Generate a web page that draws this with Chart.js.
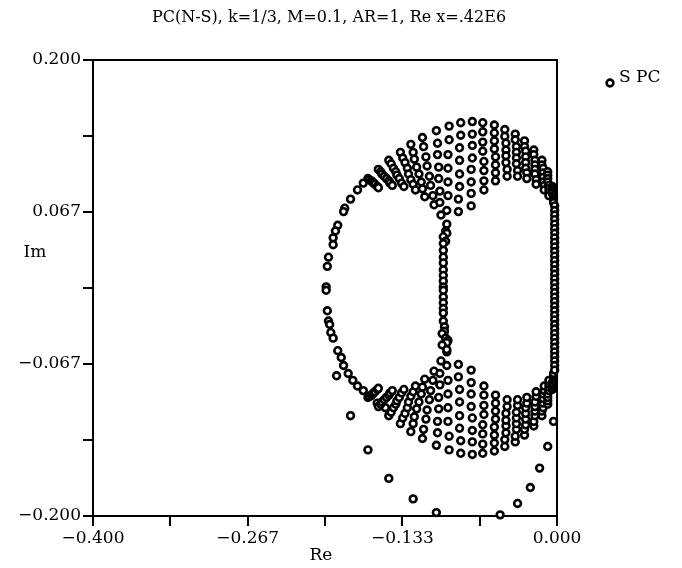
<!DOCTYPE html>
<html lang="en">
<head>
    <meta charset="UTF-8">
    <title>PC(N-S) spectrum</title>
    <style>
        body {
            margin: 0;
            padding: 0;
            background: #fff;
        }
        .chart-box {
            width: 682px;
            height: 568px;
        }
    </style>
</head>
<body>
    <div class="chart-box">
        <canvas id="spectrum"></canvas>
    </div>

    <script src="https://cdn.jsdelivr.net/npm/chart.js"></script>
    <script>
        // axis ticks
        const xTickValues = [-0.4, -0.3333, -0.2667, -0.2, -0.1333, -0.0667, 0];
        const xTickLabels = ['\u22120.400', '', '\u22120.267', '', '\u22120.133', '', '0.000'];
        const yTickValues = [-0.2, -0.1333, -0.0667, 0, 0.0667, 0.1333, 0.2];
        const yTickLabels = ['\u22120.200', '', '\u22120.067', '', '0.067', '', '0.200'];

        // eigenvalues [Re, Im]
        const upperLeft = [
            [-0.163,0.096],[-0.162,0.095],[-0.160,0.094],[-0.159,0.093],[-0.158,0.092],[-0.157,0.091],[-0.155,0.089],[-0.154,0.088],
            [-0.154,0.104],[-0.152,0.102],[-0.151,0.100],[-0.149,0.098],[-0.147,0.096],[-0.145,0.094],[-0.144,0.092],[-0.142,0.090],
            [-0.145,0.112],[-0.143,0.109],[-0.141,0.105],[-0.139,0.102],[-0.138,0.099],[-0.136,0.096],[-0.134,0.092],[-0.132,0.089],
            [-0.135,0.119],[-0.133,0.114],[-0.131,0.110],[-0.129,0.105],[-0.128,0.100],[-0.126,0.095],[-0.124,0.091],[-0.122,0.086],
            [-0.126,0.126],[-0.124,0.119],[-0.123,0.113],[-0.121,0.106],[-0.119,0.100],[-0.117,0.093],[-0.116,0.087],[-0.114,0.080],
            [-0.116,0.132],[-0.115,0.124],[-0.113,0.115],[-0.112,0.107],[-0.110,0.098],[-0.109,0.090],[-0.107,0.081],[-0.106,0.073],
            [-0.104,0.138],[-0.103,0.127],[-0.103,0.117],[-0.102,0.106],[-0.102,0.096],[-0.101,0.085],[-0.101,0.075],[-0.100,0.064]
        ];
        const upperTop = [
            [-0.093,0.142],[-0.093,0.130],[-0.094,0.117],[-0.094,0.105],[-0.094,0.093],[-0.094,0.081],[-0.095,0.068],[-0.095,0.056],
            [-0.083,0.145],[-0.083,0.134],[-0.084,0.123],[-0.084,0.112],[-0.084,0.100],[-0.084,0.089],[-0.085,0.078],[-0.085,0.067],
            [-0.073,0.146],[-0.073,0.135],[-0.073,0.125],[-0.073,0.114],[-0.074,0.104],[-0.074,0.093],[-0.074,0.083],[-0.074,0.072],
            [-0.064,0.145],[-0.064,0.137],[-0.064,0.128],[-0.064,0.120],[-0.063,0.111],[-0.063,0.103],[-0.063,0.094],[-0.063,0.086],
            [-0.054,0.143],[-0.054,0.136],[-0.054,0.129],[-0.054,0.122],[-0.053,0.115],[-0.053,0.108],[-0.053,0.101],[-0.053,0.094],
            [-0.045,0.139],[-0.045,0.133],[-0.044,0.127],[-0.044,0.121],[-0.044,0.116],[-0.044,0.110],[-0.043,0.104],[-0.043,0.098]
        ];
        const upperRight = [
            [-0.036,0.135],[-0.036,0.130],[-0.035,0.124],[-0.035,0.119],[-0.035,0.114],[-0.035,0.109],[-0.034,0.103],[-0.034,0.098],
            [-0.028,0.129],[-0.028,0.124],[-0.027,0.120],[-0.027,0.115],[-0.027,0.110],[-0.027,0.105],[-0.026,0.101],[-0.026,0.096],
            [-0.020,0.121],[-0.020,0.117],[-0.019,0.112],[-0.019,0.108],[-0.019,0.104],[-0.019,0.100],[-0.018,0.095],[-0.018,0.091],
            [-0.013,0.112],[-0.013,0.108],[-0.012,0.105],[-0.012,0.101],[-0.012,0.097],[-0.012,0.093],[-0.011,0.090],[-0.011,0.086],
            [-0.008,0.102],[-0.008,0.099],[-0.008,0.096],[-0.008,0.093],[-0.007,0.090],[-0.007,0.087],[-0.007,0.084],[-0.007,0.081],
            [-0.004,0.089],[-0.004,0.087],[-0.004,0.085],[-0.004,0.083],[-0.003,0.081],[-0.003,0.079],[-0.003,0.077],[-0.003,0.075]
        ];
        const lowerLeft = [
            [-0.163,-0.096],[-0.162,-0.095],[-0.160,-0.094],[-0.159,-0.093],[-0.158,-0.092],[-0.157,-0.091],[-0.155,-0.089],[-0.154,-0.088],
            [-0.154,-0.104],[-0.152,-0.102],[-0.151,-0.100],[-0.149,-0.098],[-0.147,-0.096],[-0.145,-0.094],[-0.144,-0.092],[-0.142,-0.090],
            [-0.145,-0.112],[-0.143,-0.109],[-0.141,-0.105],[-0.139,-0.102],[-0.138,-0.099],[-0.136,-0.096],[-0.134,-0.092],[-0.132,-0.089],
            [-0.135,-0.119],[-0.133,-0.114],[-0.131,-0.110],[-0.129,-0.105],[-0.128,-0.100],[-0.126,-0.095],[-0.124,-0.091],[-0.122,-0.086],
            [-0.126,-0.126],[-0.124,-0.119],[-0.123,-0.113],[-0.121,-0.106],[-0.119,-0.100],[-0.117,-0.093],[-0.116,-0.087],[-0.114,-0.080],
            [-0.116,-0.132],[-0.115,-0.124],[-0.113,-0.115],[-0.112,-0.107],[-0.110,-0.098],[-0.109,-0.090],[-0.107,-0.081],[-0.106,-0.073],
            [-0.104,-0.138],[-0.103,-0.127],[-0.103,-0.117],[-0.102,-0.106],[-0.102,-0.096],[-0.101,-0.085],[-0.101,-0.075],[-0.100,-0.064]
        ];
        const lowerBottom = [
            [-0.093,-0.142],[-0.093,-0.130],[-0.094,-0.117],[-0.094,-0.105],[-0.094,-0.093],[-0.094,-0.081],[-0.095,-0.068],[-0.095,-0.056],
            [-0.083,-0.145],[-0.083,-0.134],[-0.084,-0.123],[-0.084,-0.112],[-0.084,-0.100],[-0.084,-0.089],[-0.085,-0.078],[-0.085,-0.067],
            [-0.073,-0.146],[-0.073,-0.135],[-0.073,-0.125],[-0.073,-0.114],[-0.074,-0.104],[-0.074,-0.093],[-0.074,-0.083],[-0.074,-0.072],
            [-0.064,-0.145],[-0.064,-0.137],[-0.064,-0.128],[-0.064,-0.120],[-0.063,-0.111],[-0.063,-0.103],[-0.063,-0.094],[-0.063,-0.086],
            [-0.054,-0.143],[-0.054,-0.136],[-0.054,-0.129],[-0.054,-0.122],[-0.053,-0.115],[-0.053,-0.108],[-0.053,-0.101],[-0.053,-0.094],
            [-0.045,-0.139],[-0.045,-0.133],[-0.044,-0.127],[-0.044,-0.121],[-0.044,-0.116],[-0.044,-0.110],[-0.043,-0.104],[-0.043,-0.098]
        ];
        const lowerRight = [
            [-0.036,-0.135],[-0.036,-0.130],[-0.035,-0.124],[-0.035,-0.119],[-0.035,-0.114],[-0.035,-0.109],[-0.034,-0.103],[-0.034,-0.098],
            [-0.028,-0.129],[-0.028,-0.124],[-0.027,-0.120],[-0.027,-0.115],[-0.027,-0.110],[-0.027,-0.105],[-0.026,-0.101],[-0.026,-0.096],
            [-0.020,-0.121],[-0.020,-0.117],[-0.019,-0.112],[-0.019,-0.108],[-0.019,-0.104],[-0.019,-0.100],[-0.018,-0.095],[-0.018,-0.091],
            [-0.013,-0.112],[-0.013,-0.108],[-0.012,-0.105],[-0.012,-0.101],[-0.012,-0.097],[-0.012,-0.093],[-0.011,-0.090],[-0.011,-0.086],
            [-0.008,-0.102],[-0.008,-0.099],[-0.008,-0.096],[-0.008,-0.093],[-0.007,-0.090],[-0.007,-0.087],[-0.007,-0.084],[-0.007,-0.081],
            [-0.004,-0.089],[-0.004,-0.087],[-0.004,-0.085],[-0.004,-0.083],[-0.003,-0.081],[-0.003,-0.079],[-0.003,-0.077],[-0.003,-0.075]
        ];
        const leftArc = [
            [-0.167,0.092],[-0.172,0.086],[-0.178,0.078],[-0.183,0.070],[-0.184,0.067],[-0.189,0.055],[-0.191,0.050],
            [-0.193,0.044],[-0.193,0.038],[-0.197,0.027],[-0.198,0.019],[-0.199,0.001],[-0.199,-0.002],[-0.198,-0.020],
            [-0.197,-0.029],[-0.196,-0.032],[-0.195,-0.039],[-0.193,-0.044],[-0.189,-0.055],[-0.186,-0.061],[-0.184,-0.068],
            [-0.180,-0.075],[-0.176,-0.081],[-0.172,-0.086],[-0.167,-0.090],[-0.161,-0.095],[-0.155,-0.101],[-0.148,-0.105]
        ];
        const middleColumn = [
            [-0.096,0.050],[-0.095,0.048],[-0.098,0.045],[-0.096,0.041],[-0.098,0.039],[-0.098,0.033],[-0.098,0.027],
            [-0.098,0.022],[-0.098,0.016],[-0.098,0.011],[-0.098,0.006],[-0.098,0.001],[-0.098,-0.002],[-0.098,-0.008],
            [-0.098,-0.013],[-0.098,-0.018],[-0.098,-0.022],[-0.098,-0.029],[-0.097,-0.034],[-0.097,-0.038],[-0.099,-0.040],
            [-0.096,-0.044],[-0.094,-0.046],[-0.095,-0.048],[-0.099,-0.050],[-0.095,-0.054]
        ];
        const rightColumn = [
            [-0.002,0.072],[-0.002,0.068],[-0.002,0.064],[-0.002,0.060],[-0.002,0.056],[-0.002,0.052],[-0.002,0.048],
            [-0.002,0.044],[-0.002,0.040],[-0.002,0.036],[-0.002,0.032],[-0.002,0.028],[-0.002,0.024],[-0.002,0.020],
            [-0.002,0.016],[-0.002,0.012],[-0.002,0.008],[-0.002,0.004],[-0.002,0.000],[-0.002,-0.004],[-0.002,-0.008],
            [-0.002,-0.012],[-0.002,-0.016],[-0.002,-0.020],[-0.002,-0.024],[-0.002,-0.028],[-0.002,-0.032],[-0.002,-0.036],
            [-0.002,-0.040],[-0.002,-0.044],[-0.002,-0.048],[-0.002,-0.052],[-0.002,-0.056],[-0.002,-0.060],[-0.002,-0.064],
            [-0.002,-0.068],[-0.002,-0.072]
        ];
        const scattered = [
            [-0.190,-0.077],[-0.178,-0.112],[-0.163,-0.142],[-0.145,-0.167],[-0.124,-0.185],[-0.104,-0.197],
            [-0.049,-0.199],[-0.034,-0.189],[-0.023,-0.175],[-0.015,-0.158],[-0.008,-0.139],[-0.003,-0.117],
            [0.007,0.180]
        ];

        const serif = 'DejaVu Serif';

        const allPoints = [].concat(leftArc, upperLeft, upperTop, upperRight, lowerLeft, lowerBottom, lowerRight,
            middleColumn, rightColumn, scattered).map(p => ({ x: p[0], y: p[1] }));

        // frame, title, axis names and legend drawn by hand like the original plot
        const decorations = {
            id: 'decorations',
            afterDraw(chart) {
                const ctx = chart.ctx;
                const a = chart.chartArea;
                ctx.save();
                ctx.strokeStyle = '#000';
                ctx.lineWidth = 2;
                ctx.beginPath();
                ctx.moveTo(a.left, a.top);
                ctx.lineTo(a.right, a.top);
                ctx.lineTo(a.right, a.bottom);
                ctx.stroke();

                ctx.fillStyle = '#000';
                ctx.textBaseline = 'middle';
                ctx.font = '16px "' + serif + '"';
                ctx.textAlign = 'center';
                ctx.fillText('PC(N-S), k=1/3, M=0.1, AR=1, Re x=.42E6', 329, 18);

                ctx.font = '17px "' + serif + '"';
                ctx.fillText('Re', 321, 556);
                ctx.fillText('Im', 35, 253);

                // legend
                ctx.lineWidth = 2.6;
                ctx.beginPath();
                ctx.arc(610, 83, 3.4, 0, Math.PI * 2);
                ctx.fillStyle = '#fff';
                ctx.fill();
                ctx.stroke();
                ctx.fillStyle = '#000';
                ctx.textAlign = 'left';
                ctx.fillText('S PC', 619, 78);
                ctx.restore();
            }
        };

        const axisCommon = {
            type: 'linear',
            grid: { drawOnChartArea: false, drawTicks: true, tickLength: 10, color: '#000', lineWidth: 2 },
            border: { display: true, color: '#000', width: 2 }
        };

        new Chart(document.getElementById('spectrum'), {
            type: 'scatter',
            data: {
                datasets: [{
                    label: 'S PC',
                    data: allPoints,
                    clip: false,
                    pointRadius: 3.4,
                    pointBorderWidth: 2.6,
                    borderColor: '#000',
                    backgroundColor: '#fff'
                }]
            },
            options: {
                animation: false,
                responsive: true,
                maintainAspectRatio: false,
                layout: { padding: { top: 60, right: 125, bottom: 0, left: 0 } },
                plugins: {
                    legend: { display: false },
                    title: { display: false },
                    tooltip: { enabled: false }
                },
                scales: {
                    x: Object.assign({}, axisCommon, {
                        min: -0.4,
                        max: 0,
                        afterBuildTicks: axis => { axis.ticks = xTickValues.map(v => ({ value: v })); },
                        afterFit: axis => { axis.height = 52; },
                        ticks: {
                            autoSkip: false,
                            maxRotation: 0,
                            padding: 2,
                            color: '#000',
                            font: { family: serif, size: 17 },
                            callback: (v, i) => xTickLabels[i]
                        }
                    }),
                    y: Object.assign({}, axisCommon, {
                        min: -0.2,
                        max: 0.2,
                        afterBuildTicks: axis => { axis.ticks = yTickValues.map(v => ({ value: v })); },
                        afterFit: axis => { axis.width = 93; },
                        ticks: {
                            autoSkip: false,
                            padding: 2,
                            color: '#000',
                            font: { family: serif, size: 17 },
                            callback: (v, i) => yTickLabels[i]
                        }
                    })
                }
            },
            plugins: [decorations]
        });
    </script>
</body>
</html>
